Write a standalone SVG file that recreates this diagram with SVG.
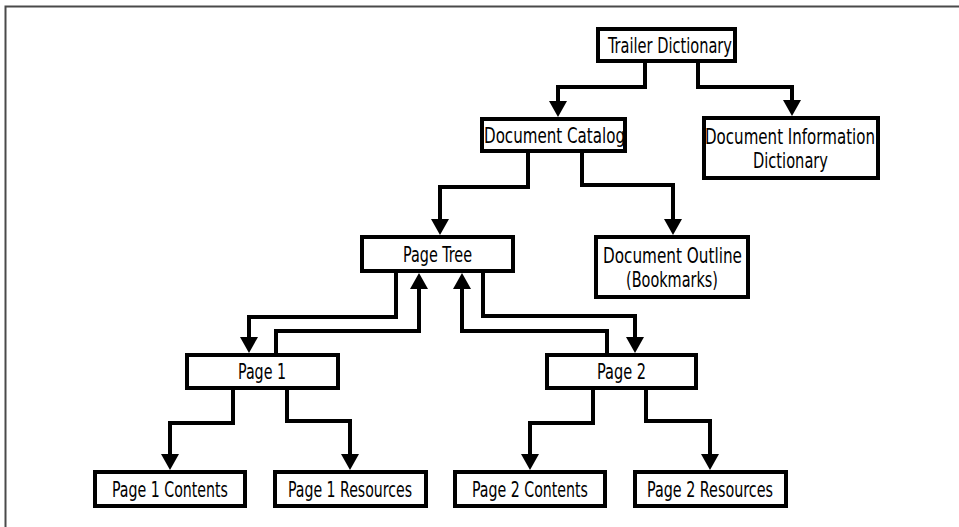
<svg xmlns="http://www.w3.org/2000/svg" width="959" height="527" viewBox="0 0 959 527">
<style>
.box{fill:#fff;stroke:#000;stroke-width:4}
.t{font-family:"Liberation Sans Narrow","DejaVu Sans Condensed","Liberation Sans",sans-serif;font-stretch:condensed;font-size:21px;fill:#000}
.c{fill:none;stroke:#000;stroke-width:4;stroke-linejoin:miter;marker-end:url(#ah)}
.frame{stroke:#4a4a4a;stroke-width:2;fill:none}
</style>
<defs>
<marker id="ah" viewBox="0 0 16 18" refX="10" refY="9" markerWidth="16" markerHeight="18" markerUnits="userSpaceOnUse" orient="auto">
<path d="M0,0 L16,9 L0,18 z" fill="#000"/>
</marker>
</defs>
<rect width="959" height="527" fill="#fff"/>
<path class="frame" d="M5.5,527 V6.5 H959"/>
<g id="connectors">
<path class="c" d="M645,63 V87 H558 V111"/>
<path class="c" d="M698,63 V87 H792 V110"/>
<path class="c" d="M528,153 V187 H440 V229"/>
<path class="c" d="M582,153 V185 H673 V229"/>
<path class="c" d="M396,273 V317 H249 V347"/>
<path class="c" d="M276,353 V331 H419 V279"/>
<path class="c" d="M483,273 V316 H635 V347"/>
<path class="c" d="M607,353 V331 H462 V279"/>
<path class="c" d="M233,390 V423 H170 V464"/>
<path class="c" d="M287,390 V421 H350 V464"/>
<path class="c" d="M593,390 V423 H530 V464"/>
<path class="c" d="M646,390 V421 H710 V464"/>
</g>
<g id="trailer"><rect class="box" x="598" y="29" width="137" height="32"/><text class="t" x="608" y="52.5" textLength="124" lengthAdjust="spacingAndGlyphs">Trailer Dictionary</text></g>
<g id="catalog"><rect class="box" x="482" y="119" width="143" height="32"/><text class="t" x="484" y="142.5" textLength="141" lengthAdjust="spacingAndGlyphs">Document Catalog</text></g>
<g id="info"><rect class="box" x="704" y="118" width="174" height="60"/><text class="t" x="705" y="143.5" textLength="170" lengthAdjust="spacingAndGlyphs">Document Information</text><text class="t" x="753" y="167.5" textLength="75" lengthAdjust="spacingAndGlyphs">Dictionary</text></g>
<g id="pagetree"><rect class="box" x="362" y="237" width="151" height="34"/><text class="t" x="403" y="261.5" textLength="69" lengthAdjust="spacingAndGlyphs">Page Tree</text></g>
<g id="outline"><rect class="box" x="596" y="237" width="152" height="60"/><text class="t" x="603" y="262.5" textLength="139" lengthAdjust="spacingAndGlyphs">Document Outline</text><text class="t" x="626" y="286.5" textLength="92" lengthAdjust="spacingAndGlyphs">(Bookmarks)</text></g>
<g id="page1"><rect class="box" x="187" y="355" width="151" height="33"/><text class="t" x="238" y="378.5" textLength="48" lengthAdjust="spacingAndGlyphs">Page 1</text></g>
<g id="page2"><rect class="box" x="547" y="355" width="149" height="33"/><text class="t" x="597" y="378.5" textLength="49" lengthAdjust="spacingAndGlyphs">Page 2</text></g>
<g id="p1contents"><rect class="box" x="95" y="472" width="150" height="34"/><text class="t" x="112" y="496.5" textLength="116" lengthAdjust="spacingAndGlyphs">Page 1 Contents</text></g>
<g id="p1resources"><rect class="box" x="275" y="472" width="151" height="34"/><text class="t" x="288" y="496.5" textLength="124" lengthAdjust="spacingAndGlyphs">Page 1 Resources</text></g>
<g id="p2contents"><rect class="box" x="455" y="472" width="150" height="34"/><text class="t" x="472" y="496.5" textLength="116" lengthAdjust="spacingAndGlyphs">Page 2 Contents</text></g>
<g id="p2resources"><rect class="box" x="635" y="472" width="151" height="34"/><text class="t" x="647" y="496.5" textLength="126" lengthAdjust="spacingAndGlyphs">Page 2 Resources</text></g>
</svg>
